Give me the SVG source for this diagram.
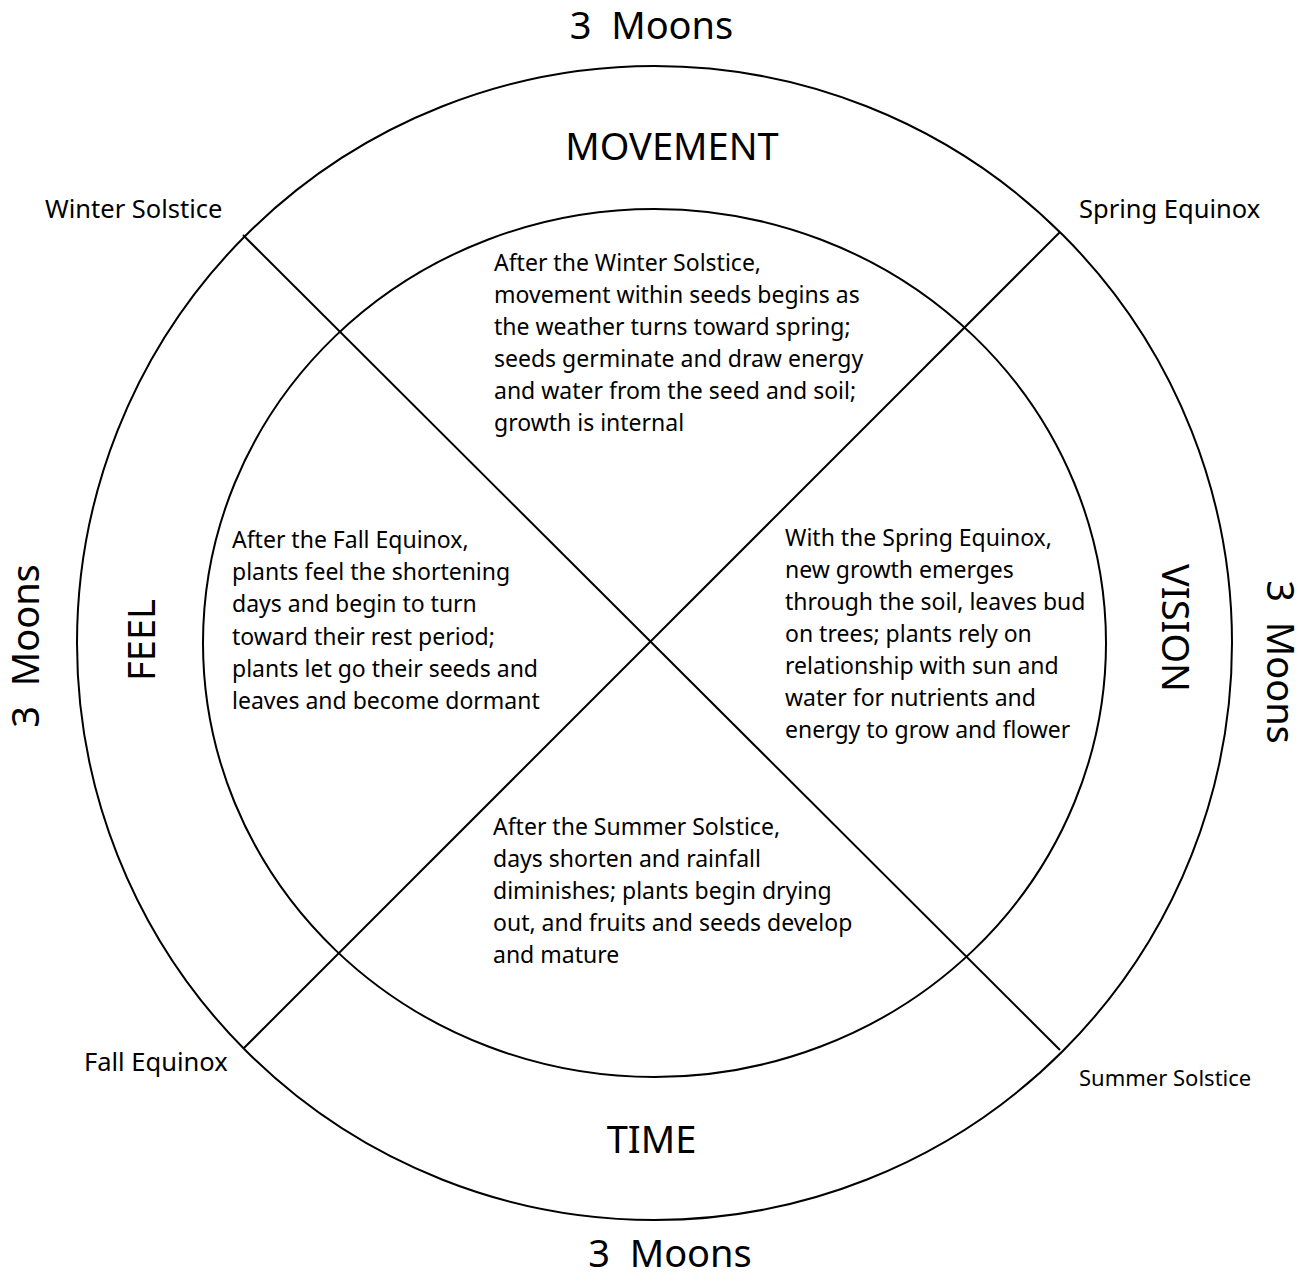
<svg xmlns="http://www.w3.org/2000/svg" width="1312" height="1278" viewBox="0 0 1312 1278">
<style>
.shape{fill:none;stroke:#000;stroke-width:2}
.body{font-family:"Noto Sans","Open Sans",sans-serif;font-size:23px;fill:#000}
.big{font-family:"Noto Sans","Open Sans",sans-serif;font-size:38px;fill:#000;text-anchor:middle;white-space:pre}
.corner{font-family:"Noto Sans","Open Sans",sans-serif;font-size:25.5px;fill:#000}
</style>
<rect width="1312" height="1278" fill="#fff"/>
<g id="outer-circle"><ellipse class="shape" cx="654.5" cy="643" rx="577.5" ry="577"/></g>
<g id="inner-circle"><ellipse class="shape" cx="654.5" cy="643" rx="451.5" ry="434"/></g>
<g id="connectors">
<line class="shape" x1="243" y1="235" x2="1060" y2="1050"/>
<line class="shape" x1="1060" y1="232" x2="244" y2="1048"/>
</g>
<g id="labels">
<text class="big" x="651.5" y="39" xml:space="preserve">3  Moons</text>
<text class="big" x="672" y="160">MOVEMENT</text>
<text class="big" x="651.5" y="1153">TIME</text>
<text class="big" x="670" y="1267" xml:space="preserve">3  Moons</text>
<text class="big" transform="translate(155,640) rotate(-90)">FEEL</text>
<text class="big" transform="translate(39,646) rotate(-90)" xml:space="preserve">3  Moons</text>
<text class="big" transform="translate(1162,628) rotate(90)">VISION</text>
<text class="big" transform="translate(1267,662) rotate(90)" xml:space="preserve">3  Moons</text>
</g>
<g id="corners">
<text class="corner" x="45" y="218">Winter Solstice</text>
<text class="corner" x="1079" y="218">Spring Equinox</text>
<text class="corner" x="84" y="1071">Fall Equinox</text>
<text class="corner" x="1079" y="1086" style="font-size:22px">Summer Solstice</text>
</g>
<g id="movement-text" class="body">
<text x="494" y="271">After the Winter Solstice,</text>
<text x="494" y="303">movement within seeds begins as</text>
<text x="494" y="335">the weather turns toward spring;</text>
<text x="494" y="367">seeds germinate and draw energy</text>
<text x="494" y="399">and water from the seed and soil;</text>
<text x="494" y="431">growth is internal</text>
</g>
<g id="feel-text" class="body">
<text x="232" y="548">After the Fall Equinox,</text>
<text x="232" y="580">plants feel the shortening</text>
<text x="232" y="612">days and begin to turn</text>
<text x="232" y="645">toward their rest period;</text>
<text x="232" y="677">plants let go their seeds and</text>
<text x="232" y="709">leaves and become dormant</text>
</g>
<g id="vision-text" class="body">
<text x="785" y="546">With the Spring Equinox,</text>
<text x="785" y="578">new growth emerges</text>
<text x="785" y="610">through the soil, leaves bud</text>
<text x="785" y="642">on trees; plants rely on</text>
<text x="785" y="674">relationship with sun and</text>
<text x="785" y="706">water for nutrients and</text>
<text x="785" y="738">energy to grow and flower</text>
</g>
<g id="time-text" class="body">
<text x="493" y="835">After the Summer Solstice,</text>
<text x="493" y="867">days shorten and rainfall</text>
<text x="493" y="899">diminishes; plants begin drying</text>
<text x="493" y="931">out, and fruits and seeds develop</text>
<text x="493" y="963">and mature</text>
</g>
</svg>
